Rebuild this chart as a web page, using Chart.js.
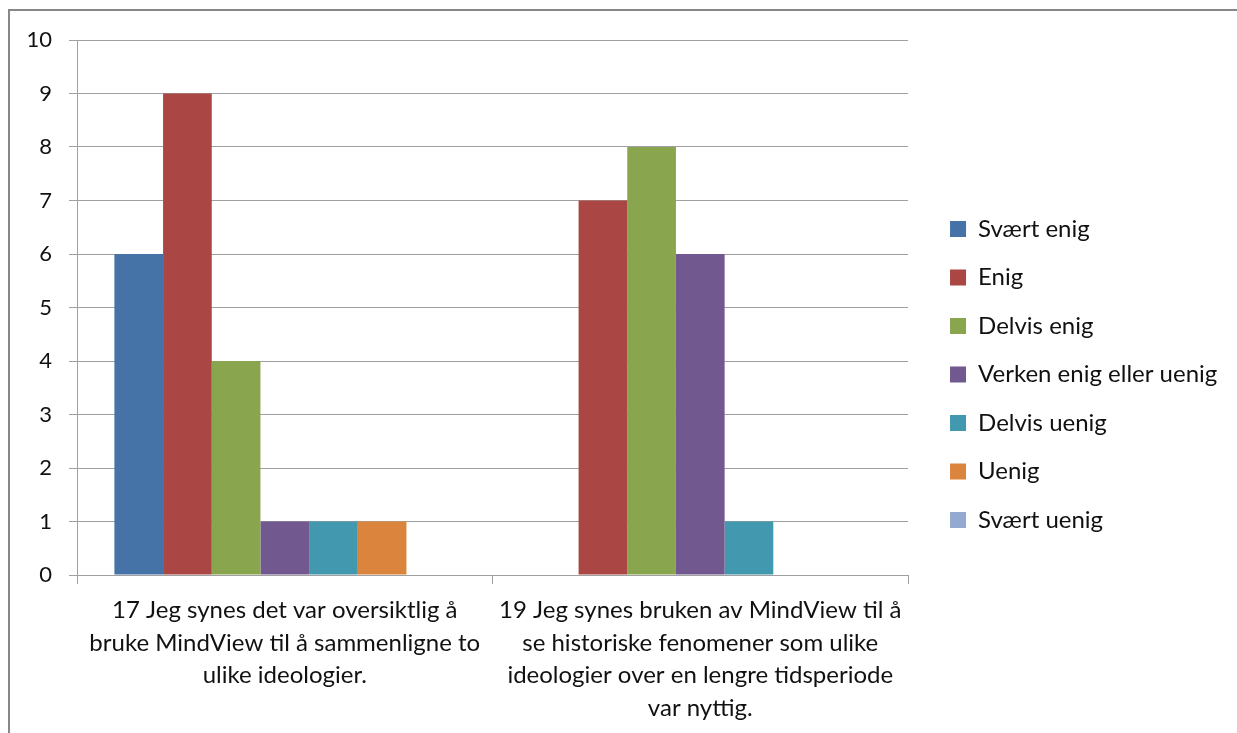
<!DOCTYPE html>
<html>
<head>
<meta charset="utf-8">
<script src="https://cdn.jsdelivr.net/npm/chart.js@4"></script>
<style>
  html, body { margin: 0; padding: 0; background: #fff; overflow: hidden; }
  #wrap { position: relative; width: 1237px; height: 733px; overflow: hidden; }
  #frame { position: absolute; left: 8px; top: 9px; width: 1300px; height: 800px;
           border-left: 2px solid #878787; border-top: 2px solid #878787; pointer-events: none; }
  canvas { position: absolute; left: 0; top: 0; }
</style>
</head>
<body>
<div id="wrap">
  <canvas id="surveyChart" width="1400" height="733"></canvas>
  <div id="frame"></div>
</div>
<script>
const categories = [
    ['17 Jeg synes det var oversiktlig å', 'bruke MindView til å sammenligne to', 'ulike ideologier.'],
    ['19 Jeg synes bruken av MindView til å', 'se historiske fenomener som ulike', 'ideologier over en lengre tidsperiode', 'var nyttig.']
];
const seriesNames = ['Svært enig', 'Enig', 'Delvis enig', 'Verken enig eller uenig', 'Delvis uenig', 'Uenig', 'Svært uenig'];
const svaertEnig = [6, 0];
const enig = [9, 7];
const delvisEnig = [4, 8];
const verken = [1, 6];
const delvisUenig = [1, 1];
const uenig = [1, 0];
const svaertUenig = [0, 0];
const yTicks = [0, 1, 2, 3, 4, 5, 6, 7, 8, 9, 10];
const colors = ['#4572A7', '#AA4643', '#89A54E', '#71588F', '#4198AF', '#DB843D', '#93A9CF'];

const values = [svaertEnig, enig, delvisEnig, verken, delvisUenig, uenig, svaertUenig];
const fontFamily = 'Lato, Carlito, Calibri, sans-serif';
const gridColor = '#a0a0a0';
const textColor = '#111';

document.addEventListener('DOMContentLoaded', () => {
    const ctx = document.getElementById('surveyChart');

    new Chart(ctx, {
        type: 'bar',
        data: {
            labels: categories,
            datasets: seriesNames.map((name, i) => ({
                label: name,
                data: values[i],
                backgroundColor: colors[i],
                borderWidth: 0,
                categoryPercentage: 0.82,
                barPercentage: 1.0
            }))
        },
        options: {
            responsive: false,
            animation: false,
            layout: {
                // canvas is wider than the window, right padding puts the plot edge at ~908px
                padding: { top: 40, left: 0, bottom: 0, right: 172.7 }
            },
            scales: {
                x: {
                    grid: {
                        drawOnChartArea: false,
                        drawTicks: true,
                        tickLength: 9,
                        color: gridColor
                    },
                    border: { color: gridColor },
                    ticks: {
                        color: textColor,
                        padding: 10,
                        maxRotation: 0,
                        autoSkip: false,
                        font: { family: fontFamily, size: 24, lineHeight: 1.355 }
                    },
                    afterFit: (scale) => { scale.height = 158; }
                },
                y: {
                    min: 0,
                    max: 10,
                    afterBuildTicks: (scale) => { scale.ticks = yTicks.map(v => ({ value: v })); },
                    grid: {
                        color: gridColor,
                        tickLength: 8
                    },
                    border: { color: gridColor },
                    ticks: {
                        color: textColor,
                        padding: 17,
                        font: { family: fontFamily, size: 22 }
                    },
                    afterFit: (scale) => { scale.width = 77; }
                },
                // empty scale, only used as a spacer between plot and legend
                gap: {
                    position: 'right',
                    display: true,
                    grid: { display: false },
                    border: { display: false },
                    ticks: { display: false },
                    afterFit: (scale) => { scale.width = 17.5; }
                }
            },
            plugins: {
                tooltip: { enabled: false },
                legend: {
                    position: 'right',
                    align: 'start',
                    maxWidth: 600,
                    // blank title pushes the items down to the middle
                    title: {
                        display: true,
                        text: '',
                        font: { size: 10, lineHeight: 1 },
                        padding: { top: 142.5, bottom: 0 }
                    },
                    labels: {
                        color: textColor,
                        boxWidth: 16,
                        boxHeight: 16,
                        padding: 24.5,
                        font: { family: fontFamily, size: 24 }
                    }
                }
            }
        }
    });
});
</script>
</body>
</html>
